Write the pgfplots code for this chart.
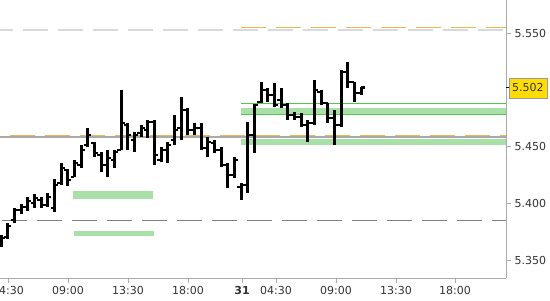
\documentclass[border=0pt]{standalone}
\usepackage{fontspec}
\setmainfont{DejaVu Sans}
\usepackage{pgfplots}
\pgfplotsset{compat=1.18}
\usepackage{pgfplotstable}

\definecolor{bandgreen}{RGB}{168,224,168}
\definecolor{linegreen}{RGB}{80,200,80}
\definecolor{orangedash}{RGB}{240,180,80}
\definecolor{axgray}{RGB}{170,170,170}
\definecolor{labyellow}{RGB}{255,221,0}

\pgfplotstableread{
x O H L C
1 5.3633 5.3721 5.3615 5.3695
7.7 5.3703 5.3827 5.3686 5.3800
14.3 5.3853 5.3959 5.3827 5.3941
21 5.3941 5.3994 5.3906 5.3968
27.7 5.3968 5.4056 5.3933 5.4021
34.3 5.4003 5.4083 5.3959 5.4047
41 5.4030 5.4056 5.3959 5.3986
47.7 5.3986 5.4091 5.3968 5.4056
54.3 5.3959 5.4215 5.3924 5.4162
61 5.4180 5.4356 5.4162 5.4312
67.7 5.4294 5.4303 5.4153 5.4206
74.3 5.4233 5.4383 5.4233 5.4356
81 5.4338 5.4515 5.4312 5.4471
87.7 5.4515 5.4665 5.4497 5.4603
94.3 5.4532 5.4541 5.4409 5.4444
101 5.4427 5.4453 5.4277 5.4338
107.7 5.4338 5.4471 5.4233 5.4400
114.3 5.4383 5.4471 5.4312 5.4453
121 5.4471 5.5000 5.4471 5.4709
127.7 5.4691 5.4709 5.4471 5.4603
134.3 5.4559 5.4629 5.4453 5.4603
141 5.4621 5.4691 5.4585 5.4665
147.7 5.4647 5.4735 5.4577 5.4718
154.3 5.4718 5.4735 5.4338 5.4427
161 5.4383 5.4497 5.4365 5.4471
167.7 5.4471 5.4541 5.4356 5.4515
174.3 5.4559 5.4779 5.4515 5.4647
181 5.4665 5.4938 5.4559 5.4823
187.7 5.4823 5.4841 5.4603 5.4647
194.3 5.4647 5.4709 5.4603 5.4665
201 5.4665 5.4709 5.4471 5.4488
207.7 5.4488 5.4585 5.4409 5.4541
214.3 5.4532 5.4559 5.4444 5.4471
221 5.4471 5.4497 5.4321 5.4338
227.7 5.4338 5.4356 5.4136 5.4250
234.3 5.4250 5.4409 5.4224 5.4383
241 5.4144 5.4180 5.4030 5.4162
247.7 5.4162 5.4718 5.4091 5.4603
254.3 5.4603 5.4876 5.4444 5.4868
261 5.4894 5.5070 5.4885 5.5000
267.7 5.5000 5.5018 5.4894 5.4956
274.3 5.4956 5.5062 5.4850 5.4868
281 5.4912 5.5018 5.4841 5.4868
287.7 5.4868 5.4885 5.4735 5.4779
294.3 5.4779 5.4806 5.4735 5.4762
301 5.4762 5.4797 5.4674 5.4691
307.7 5.4691 5.4735 5.4541 5.4709
314.3 5.4709 5.5088 5.4691 5.5000
321 5.4982 5.5000 5.4868 5.4885
327.7 5.4885 5.4885 5.4709 5.4753
334.3 5.4753 5.4823 5.4515 5.4691
341 5.4691 5.5176 5.4674 5.5159
347.7 5.5159 5.5247 5.5018 5.5070
354.3 5.5070 5.5070 5.4894 5.4973
361 5.4973 5.5027 5.4956 5.5020
}\bars

\begin{document}
\begin{tikzpicture}[x=1bp,y=1bp]
\begin{axis}[
  at={(0,0)}, anchor=south west,
  scale only axis, width=506bp, height=278bp,
  xmin=0, xmax=506, ymin=5.3342, ymax=5.5794,
  axis x line*=bottom, axis y line*=right,
  axis line style={axgray, line width=1bp},
  tick align=outside, major tick length=5bp,
  tick style={axgray, line width=0.8bp},
  font=\fontsize{11bp}{13bp}\selectfont,
  tick label style={text=black!80},
  xtick={8,68,128,188,242,276,336,396,455},
  xticklabels={04:30,09:00,13:30,18:00,\textbf{31},04:30,09:00,13:30,18:00},
  ytick={5.35,5.40,5.45,5.55},
  /pgf/number format/fixed, /pgf/number format/fixed zerofill,
  /pgf/number format/precision=3, /pgf/number format/assume math mode=true,
  extra y ticks={5.502},
  extra y tick labels={5.502},
  extra y tick style={
    tick style={black, line width=1bp},
    yticklabel style={fill=labyellow, draw=gray!80, inner xsep=3bp, inner ysep=0pt, minimum height=20bp, xshift=-2bp}
  },
]
% zones
\addplot[fill=bandgreen, draw=none] coordinates {(73,5.4039) (153,5.4039) (153,5.4112) (73,5.4112)} -- cycle;
\addplot[fill=bandgreen, draw=none] coordinates {(74,5.3712) (154,5.3712) (154,5.3759) (74,5.3759)} -- cycle;
\addplot[fill=bandgreen, draw=none] coordinates {(241,5.4788) (506,5.4788) (506,5.4844) (241,5.4844)} -- cycle;
\addplot[fill=bandgreen, draw=none] coordinates {(241,5.4515) (506,5.4515) (506,5.4570) (241,5.4570)} -- cycle;
\addplot[linegreen, line width=1bp] coordinates {(241,5.4883) (506,5.4883)};
\addplot[linegreen, line width=1bp] coordinates {(241,5.4788) (506,5.4788)};
% reference lines
\addplot[gray!30, line width=1.2bp, dash pattern=on 25bp off 10bp, dash phase=12.3bp] coordinates {(0,5.5529) (506,5.5529)};
\addplot[orangedash, line width=1bp, dash pattern=on 25bp off 10bp] coordinates {(241,5.5553) (506,5.5553)};
\addplot[orangedash, line width=1bp, dash pattern=on 25bp off 10bp, dash phase=25bp] coordinates {(0,5.4597) (506,5.4597)};
\addplot[axgray, line width=1.2bp] coordinates {(0,5.4585) (506,5.4585)};
\addplot[gray, line width=1bp, dash pattern=on 25bp off 10bp, dash phase=33bp] coordinates {(0,5.3849) (506,5.3849)};
% OHLC bars: high-low, open (left), close (right)
\addplot[black, line width=3bp, mark=none, quiver={u=0, v=\thisrow{H}-\thisrow{L}}]
  table[x=x, y=L] {\bars};
\addplot[black, line width=2.6bp, mark=none, quiver={u=-3.6, v=0}]
  table[x=x, y=O] {\bars};
\addplot[black, line width=2.6bp, mark=none, quiver={u=3.6, v=0}]
  table[x=x, y=C] {\bars};
\end{axis}
\pgfresetboundingbox
\path[use as bounding box] (0,-22) rectangle (550,278);
\end{tikzpicture}
\end{document}
